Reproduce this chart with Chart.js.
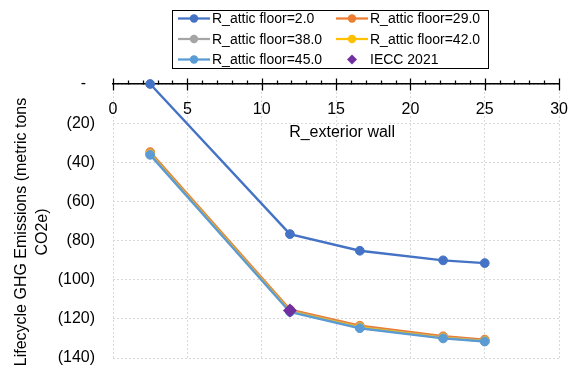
<!DOCTYPE html>
<html>
<head>
<meta charset="utf-8">
<script src="https://cdn.jsdelivr.net/npm/chart.js@4.4.1/dist/chart.umd.min.js"></script>
<style>
  html, body { margin: 0; padding: 0; background: #fff; }
  #wrap { width: 584px; height: 371px; }
</style>
</head>
<body>
<div id="wrap"><canvas id="ghgChart"></canvas></div>
<script>
// exterior wall R-values used in the runs
const rWall = [2.5, 11.9, 16.6, 22.2, 25];

// lifecycle GHG (metric tons CO2e), one array per attic floor R-value
const attic2 = [0, -76.7, -85.2, -90.1, -91.5];
const attic29 = [-34.8, -115.3, -123.5, -128.9, -130.6];
const attic38 = [-35.6, -116.0, -124.2, -129.5, -131.2];
const attic42 = [-35.8, -116.2, -124.4, -129.7, -131.4];
const attic45 = [-36.2, -116.5, -124.8, -130.0, -131.6];

// IECC 2021 reference case
const ieccX = [11.9];
const ieccY = [-115.7];

const seriesLabels = ['R_attic floor=2.0', 'R_attic floor=29.0', 'R_attic floor=38.0',
  'R_attic floor=42.0', 'R_attic floor=45.0', 'IECC 2021'];
const seriesColors = ['#4472C4', '#ED7D31', '#A5A5A5', '#FFC000', '#5B9BD5', '#7030A0'];

const xTitle = 'R_exterior wall';
const yTitle = ['Lifecycle GHG Emissions (metric tons', 'CO2e)'];

const xMin = 0, xMax = 30, xStep = 5;
const yMin = -140, yMax = 0, yStep = 20;

const FONT = '"Liberation Sans", Arial, sans-serif';

function pts(xs, ys) {
  return xs.map((x, i) => ({ x: x, y: ys[i] }));
}

function lineSet(i, ys, order) {
  return {
    label: seriesLabels[i],
    data: pts(rWall, ys),
    borderColor: seriesColors[i],
    backgroundColor: seriesColors[i],
    pointBackgroundColor: seriesColors[i],
    pointBorderColor: seriesColors[i],
    borderWidth: 2.4,
    pointRadius: 4.4,
    pointBorderWidth: 1,
    showLine: true,
    clip: false,
    order: order
  };
}

const datasets = [
  lineSet(0, attic2, 5),
  lineSet(1, attic29, 4),
  lineSet(2, attic38, 3),
  lineSet(3, attic42, 2),
  lineSet(4, attic45, 1),
  {
    label: seriesLabels[5],
    data: pts(ieccX, ieccY),
    borderColor: seriesColors[5],
    backgroundColor: seriesColors[5],
    pointStyle: 'rectRot',
    pointRadius: 7,
    pointBorderWidth: 0,
    showLine: false,
    clip: false,
    order: 0
  }
];

// Excel-style axis ticks (major crossing the line, minor above) + axis titles
const axisExtras = {
  id: 'axisExtras',
  afterDraw(chart) {
    const ctx = chart.ctx;
    const xs = chart.scales.x;
    const area = chart.chartArea;
    const y0 = Math.round(chart.scales.y.getPixelForValue(0)) + 0.5;
    ctx.save();
    ctx.strokeStyle = '#000';
    ctx.lineWidth = 1.25;
    ctx.beginPath();
    for (let v = xMin; v <= xMax; v++) {
      const px = Math.round(xs.getPixelForValue(v)) + 0.5;
      if (v % xStep === 0) {
        ctx.moveTo(px, y0 - 6);
        ctx.lineTo(px, y0 + 6);
      } else {
        ctx.moveTo(px, y0 - 4);
        ctx.lineTo(px, y0);
      }
    }
    ctx.stroke();

    ctx.fillStyle = '#000';
    ctx.font = '16px ' + FONT;
    ctx.textAlign = 'center';
    ctx.textBaseline = 'middle';
    ctx.fillText(xTitle, (area.left + area.right) / 2 + 6, y0 + 48);

    ctx.translate(22, (area.top + area.bottom) / 2 + 11);
    ctx.rotate(-Math.PI / 2);
    yTitle.forEach((line, i) => ctx.fillText(line, 0, i * 21));
    ctx.restore();
  }
};

// boxed two-column legend like the original
const boxedLegend = {
  id: 'boxedLegend',
  afterDraw(chart) {
    const ctx = chart.ctx;
    ctx.save();
    ctx.strokeStyle = '#000';
    ctx.lineWidth = 1;
    ctx.strokeRect(172.5, 10.5, 316, 58);
    ctx.font = '14px ' + FONT;
    ctx.textBaseline = 'middle';
    ctx.textAlign = 'left';
    chart.data.datasets.forEach((ds, i) => {
      const col = i % 2;
      const row = Math.floor(i / 2);
      const x0 = col ? 336 : 178;
      const y = 18.5 + row * 20.5;
      const c = ds.borderColor;
      if (ds.showLine !== false) {
        ctx.strokeStyle = c;
        ctx.lineWidth = 2.25;
        ctx.beginPath();
        ctx.moveTo(x0, y);
        ctx.lineTo(x0 + 32, y);
        ctx.stroke();
        ctx.fillStyle = c;
        ctx.beginPath();
        ctx.arc(x0 + 16, y, 4.2, 0, Math.PI * 2);
        ctx.fill();
      } else {
        ctx.fillStyle = c;
        ctx.beginPath();
        ctx.moveTo(x0 + 16, y - 5);
        ctx.lineTo(x0 + 21, y);
        ctx.lineTo(x0 + 16, y + 5);
        ctx.lineTo(x0 + 11, y);
        ctx.closePath();
        ctx.fill();
      }
      ctx.fillStyle = '#000';
      ctx.fillText(ds.label, x0 + 34, y + 1);
    });
    ctx.restore();
  }
};

new Chart(document.getElementById('ghgChart'), {
  type: 'scatter',
  data: { datasets: datasets },
  plugins: [axisExtras, boxedLegend],
  options: {
    responsive: true,
    maintainAspectRatio: false,
    animation: false,
    layout: { padding: { left: 0, right: 15, top: 84, bottom: 13 } },
    plugins: {
      legend: { display: false },
      tooltip: { enabled: false }
    },
    scales: {
      x: {
        type: 'linear',
        position: { y: 0 },
        min: xMin,
        max: xMax,
        ticks: {
          stepSize: xStep,
          color: '#000',
          padding: 16,
          font: { family: FONT, size: 16 }
        },
        grid: {
          color: '#D9D9D9',
          lineWidth: 1,
          drawTicks: false
        },
        border: { display: true, color: '#000', width: 1.5, dash: [2, 2] }
      },
      y: {
        type: 'linear',
        position: 'left',
        min: yMin,
        max: yMax,
        afterFit(scale) { scale.width = 113; },
        ticks: {
          stepSize: yStep,
          color: '#000',
          padding: 0,
          font: { family: FONT, size: 16 },
          callback: (v) => v === 0 ? '-  ' : '(' + Math.abs(v) + ')'
        },
        grid: {
          color: '#D9D9D9',
          lineWidth: 1,
          drawTicks: true,
          tickLength: 18,
          tickColor: 'rgba(0,0,0,0)'
        },
        border: { display: false, dash: [2, 2] }
      }
    }
  }
});
</script>
</body>
</html>
